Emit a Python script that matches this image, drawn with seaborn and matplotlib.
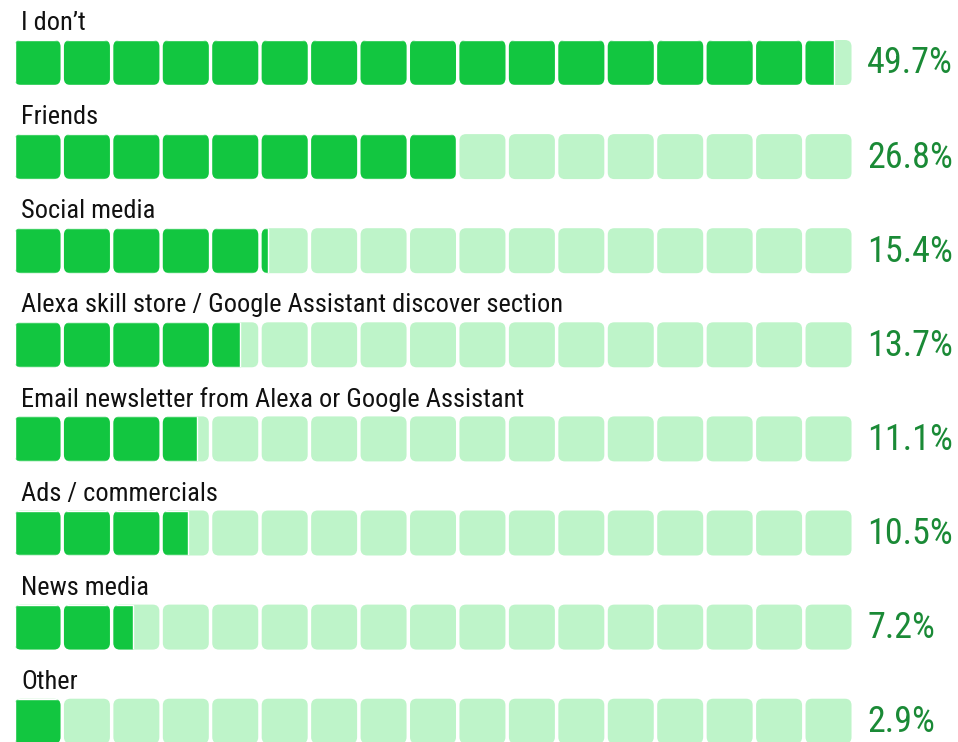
import numpy as np
import pandas as pd
import seaborn as sns
import matplotlib.pyplot as plt
from matplotlib.patches import FancyBboxPatch
from matplotlib.path import Path

categories = ["I don\u2019t", "Friends", "Social media",
              "Alexa skill store / Google Assistant discover section",
              "Email newsletter from Alexa or Google Assistant",
              "Ads / commercials", "News media", "Other"]
values = [49.7, 26.8, 15.4, 13.7, 11.1, 10.5, 7.2, 2.9]
pct_labels = ["49.7%", "26.8%", "15.4%", "13.7%", "11.1%", "10.5%", "7.2%", "2.9%"]

n_cells = 17
cell_step = 3.0   # cada quadrado = 3 %
cell_w = 2.79
cell_h = 0.478

dark = "#12c640"
light = "#bef4c9"
pct_col = "#1a8a36"

sns.set_theme(style="white")
plt.rcParams['font.family'] = ['Roboto Condensed', 'Liberation Sans Narrow', 'Roboto', 'DejaVu Sans']

df = pd.DataFrame({"Categoria": categories, "Valor": values})

fig = plt.figure(figsize=(9.58, 7.42), dpi=100)
px_x = 16.48
ax = fig.add_axes([14.5 / 958, 0, n_cells * cell_step * px_x / 958, 1])

sns.barplot(data=df, x="Valor", y="Categoria", orient="h", color=dark,
            width=cell_h, saturation=1, ax=ax, zorder=3)

ax.set_xlim(0, n_cells * cell_step)
ax.set_ylim((742 - 62.5) / 94.1, -62.5 / 94.1)
ax.set_axis_off()

# correcao de aspecto para os cantos arredondados
aspect = (1 / 94.1) / (1 / px_x)

for i in range(len(categories)):
    paths = []
    for c in range(n_cells):
        p = FancyBboxPatch((c * cell_step, i - cell_h / 2), cell_w, cell_h,
                           boxstyle="round,pad=0,rounding_size=0.4",
                           mutation_aspect=aspect, fc=light, ec="none", zorder=1)
        ax.add_patch(p)
        paths.append(p.get_path())
    clip = Path.make_compound_path(*paths)
    bar = ax.patches[i]
    bar.set_clip_path(clip, ax.transData)
    ax.text(0.42, i - cell_h / 2 - 0.105, categories[i], fontsize=19,
            color="#111111", ha="left", va="baseline")
    ax.text(51.75, i + 0.01, pct_labels[i], fontsize=26, color=pct_col,
            ha="left", va="center", clip_on=False)

fig.savefig("out.png", dpi=100)
